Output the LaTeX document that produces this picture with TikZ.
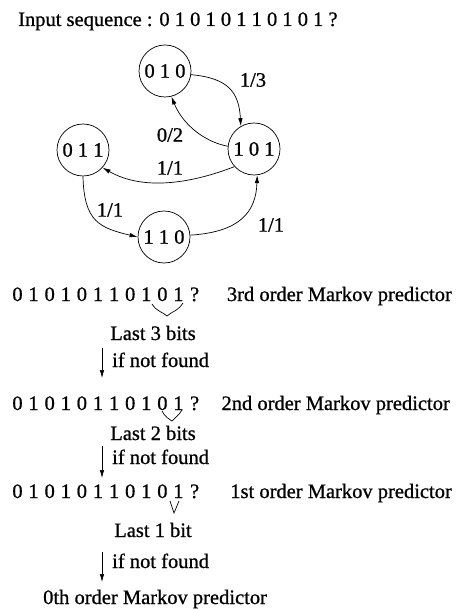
\documentclass[tikz,border=0pt]{standalone}
\usepackage{fontspec}
\setmainfont[FakeBold=0.8]{Liberation Serif}
\usetikzlibrary{arrows.meta}
\begin{document}
\begin{tikzpicture}[x=1pt,y=-1pt,
  every node/.style={font=\fontsize{20.5}{24}\selectfont, inner sep=0pt},
  state/.style={draw, circle, minimum size=52pt, line width=0.7pt},
  link/.style={line width=0.7pt, -{Latex[length=8pt,width=4.5pt]}},
  lbl/.style={anchor=center},
  txt/.style={anchor=base west},
  rtxt/.style={anchor=base east},
  bit/.style={anchor=base},
  brace/.style={line width=0.7pt}
]
\useasboundingbox (0,0) rectangle (467,609);

% heading
\node[txt] (title) at (18,26) {Input sequence : 0 1 0 1 0 1 1 0 1 0 1 ?};

% state graph of the 3rd order predictor
\node[state] (s010) at (165,71)  {0 1 0};
\node[state] (s011) at (83,150)  {0 1 1};
\node[state] (s101) at (254,149) {1 0 1};
\node[state] (s110) at (164,237) {1 1 0};

\draw[link] (s010.-8) .. controls (228,78) and (239,92) .. (s101.120);
\draw[link] (s101.174) .. controls (205,142) and (183,125) .. (s010.-76);
\draw[link] (s101.-138) .. controls (195,182) and (145,192) .. (s011.-42);
\draw[link] (s011.-90) .. controls (84,222) and (100,228) .. (s110.180);
\draw[link] (s110.4) .. controls (240,232) and (256,212) .. (s101.-83);

\node[lbl] (l13)  at (253,80)  {1/3};
\node[lbl] (l02)  at (170,135) {0/2};
\node[lbl] (l11a) at (170,168) {1/1};
\node[lbl] (l11b) at (110,210) {1/1};
\node[lbl] (l11c) at (271,225) {1/1};

% the three input sequences, one character at a time
\foreach \row/\yy in {1/301, 2/410, 3/498}{
  \foreach \c [count=\i] in {0,1,0,1,0,1,1,0,1,0,1,?}{
    \node[bit] (q\row-\i) at ({17.5+16.1*(\i-1)},\yy) {\c};
  }
}

% predictor names
\node[rtxt] (p3) at (452,301) {3rd order Markov predictor};
\node[rtxt] (p2) at (450,410) {2nd order Markov predictor};
\node[rtxt] (p1) at (452,498) {1st order Markov predictor};
\node[txt]  (p0) at (43,604)  {0th order Markov predictor};

% braces under the last bits
\draw[brace] (152,304) .. controls (157,312) and (163,312) .. (167,316)
             .. controls (171,312) and (178,311) .. (183,303);
\draw[brace] (162,411) .. controls (165,417) and (169,419) .. (172,421)
             .. controls (175,418) and (179,415) .. (182,410);
\draw[brace] (170,501) -- (174,513) -- (179,501);

\node[anchor=base] (b3) at (153,340) {Last 3 bits};
\node[anchor=base] (b2) at (153,440) {Last 2 bits};
\node[anchor=base] (b1) at (153,537) {Last 1 bit};

% fall-back arrows
\coordinate (f1a) at (102,348);
\coordinate (f1b) at (102,378);
\coordinate (f2a) at (102,446);
\coordinate (f2b) at (102,478);
\coordinate (f3a) at (102,552);
\coordinate (f3b) at (102,582);
\draw[link] (f1a) -- (f1b);
\draw[link] (f2a) -- (f2b);
\draw[link] (f3a) -- (f3b);

\node[txt] (n1) at (112,367) {if not found};
\node[txt] (n2) at (112,464) {if not found};
\node[txt] (n3) at (112,568) {if not found};
\end{tikzpicture}
\end{document}
